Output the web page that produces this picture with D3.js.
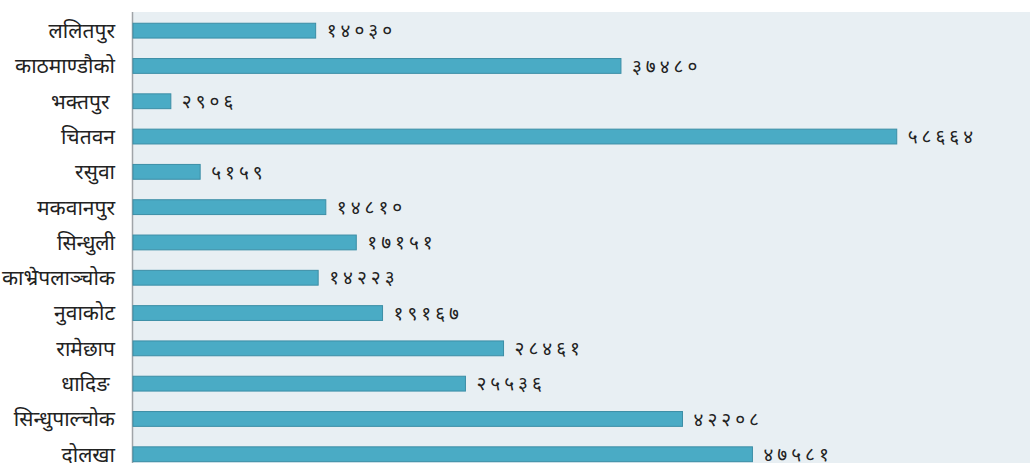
<!DOCTYPE html>
<html>
<head>
<meta charset="utf-8">
<script src="https://d3js.org/d3.v7.min.js"></script>
<style>
  body { margin: 0; background: #fff; }
  text { font-family: "Noto Sans", "DejaVu Sans", sans-serif; }
</style>
</head>
<body>
<div id="chart"></div>
<script>
// districts (top to bottom) and their values
var districts = ["ललितपुर", "काठमाण्डौको", "भक्तपुर ", "चितवन", "रसुवा", "मकवानपुर",
  "सिन्धुली", "काभ्रेपलाञ्चोक", "नुवाकोट", "रामेछाप", "धादिङ ", "सिन्धुपाल्चोक", "दोलखा"];
var values = [14030, 37480, 2906, 58664, 5159, 14810, 17151, 14223, 19167, 28461, 25536, 42208, 47581];

var width = 1030, height = 463;
var marginLeft = 132, marginTop = 12;

// nepali digits for labels
var npDigits = ["०", "१", "२", "३", "४", "५", "६", "७", "८", "९"];
function toNepali(n) {
  return String(n).replace(/[0-9]/g, function(c) { return npDigits[+c]; });
}

var svg = d3.select("#chart").append("svg")
  .attr("width", width)
  .attr("height", height);

var x = d3.scaleLinear()
  .domain([0, 68900])
  .range([marginLeft + 1, width]);

var y = d3.scaleBand()
  .domain(districts)
  .range([marginTop + 1, marginTop + 1 + districts.length * 35.3])
  .paddingInner(0.58)
  .paddingOuter(0.29);

// panel background
svg.append("rect")
  .attr("x", marginLeft)
  .attr("y", marginTop)
  .attr("width", width - marginLeft)
  .attr("height", height - marginTop)
  .attr("fill", "#e8eff3");

// axis line
svg.append("line")
  .attr("x1", marginLeft + 0.5).attr("x2", marginLeft + 0.5)
  .attr("y1", marginTop).attr("y2", height)
  .attr("stroke", "#a0a4a8")
  .attr("stroke-width", 1.5);

// bars
svg.selectAll("rect.bar")
  .data(values)
  .enter().append("rect")
    .attr("class", "bar")
    .attr("x", x(0))
    .attr("y", function(d, i) { return y(districts[i]); })
    .attr("width", function(d) { return x(d) - x(0); })
    .attr("height", y.bandwidth())
    .attr("fill", "#4aabc5")
    .attr("stroke", "#3c8ea6")
    .attr("stroke-width", 1);

// value labels
svg.selectAll("text.val")
  .data(values)
  .enter().append("text")
    .attr("class", "val")
    .attr("x", function(d) { return x(d) + 11; })
    .attr("y", function(d, i) { return y(districts[i]) + y.bandwidth() / 2; })
    .attr("dy", "0.35em")
    .attr("font-size", 19)
    .attr("fill", "#222")
    .style("letter-spacing", "4px")
    .text(function(d) { return toNepali(d); });

// category labels
svg.selectAll("text.cat")
  .data(districts)
  .enter().append("text")
    .attr("class", "cat")
    .attr("x", 115)
    .attr("y", function(d) { return y(d) + y.bandwidth() / 2; })
    .attr("dy", "0.35em")
    .attr("text-anchor", "end")
    .attr("font-size", 21)
    .attr("fill", "#222")
    .style("white-space", "pre")
    .text(function(d) { return d; });
</script>
</body>
</html>
